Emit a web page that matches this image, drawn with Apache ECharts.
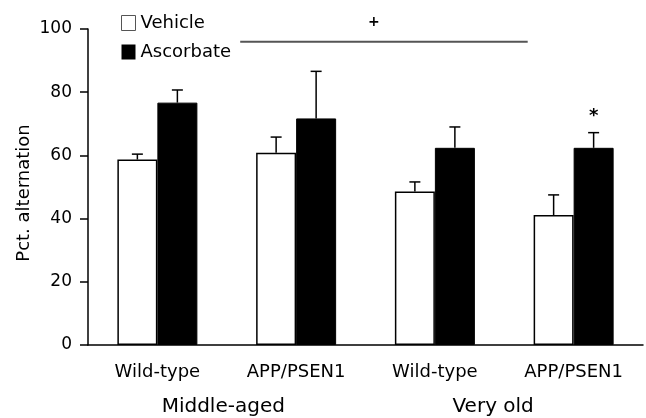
<!DOCTYPE html>
<html>
<head>
<meta charset="utf-8">
<script src="https://cdn.jsdelivr.net/npm/echarts@6/dist/echarts.min.js"></script>
<style>html,body{margin:0;padding:0;background:#fff}#c{width:646px;height:418px}</style>
</head>
<body>
<div id="c"></div>
<script>
// ---- data ----
var categories = ['Wild-type', 'APP/PSEN1', 'Wild-type', 'APP/PSEN1'];
var groupLabels = ['Middle-aged', 'Very old'];
var groupLabelPos = [0.475, 2.42];      // in category-index units
var vehicle = [58.7, 60.8, 48.6, 41.1];
var vehicleSem = [1.7, 5.0, 3.0, 6.4];
var ascorbate = [76.7, 71.7, 62.4, 62.4];
var ascorbateSem = [4.0, 14.9, 6.6, 4.8];
var yTicks = [0, 20, 40, 60, 80, 100];
// significance annotations
var sigLine = [0.597, 2.669, 96];       // x0, x1 (category-index units), y value
var plusMark = [1.56, 102.2, '+'];
var starMark = [3, 72.5, '*'];

// ---- style ----
var FONT = 'DejaVu Sans';
var BAR_W = 40;
var CAP = 11;

function errData(vals, sems) {
  return vals.map(function (v, i) { return [i, v, v + sems[i]]; });
}

function errSeries(name, vals, sems, offset) {
  return {
    type: 'custom',
    name: name + '-err',
    xAxisIndex: 0,
    z: 5,
    silent: true,
    data: errData(vals, sems),
    renderItem: function (params, api) {
      var b = api.coord([api.value(0), api.value(1)]);
      var t = api.coord([api.value(0), api.value(2)]);
      var x = b[0] + offset;
      return {
        type: 'group',
        children: [
          { type: 'line', shape: { x1: x, y1: b[1], x2: x, y2: t[1] }, style: { stroke: '#000', lineWidth: 1.5 } },
          { type: 'line', shape: { x1: x - CAP / 2, y1: t[1], x2: x + CAP / 2, y2: t[1] }, style: { stroke: '#000', lineWidth: 1.5 } }
        ]
      };
    }
  };
}

var chart = echarts.init(document.getElementById('c'));
chart.setOption({
  animation: false,
  backgroundColor: '#fff',
  grid: { left: 88, right: 3, top: 29, bottom: 73, containLabel: false },
  legend: {
    orient: 'vertical',
    left: 116,
    top: 9,
    itemWidth: 14,
    itemHeight: 15,
    itemGap: 11,
    icon: 'rect',
    textStyle: { fontFamily: FONT, fontSize: 18, color: '#000' },
    data: [
      { name: 'Vehicle', itemStyle: { color: '#fff', borderColor: '#555', borderWidth: 1 } },
      { name: 'Ascorbate', itemStyle: { color: '#000', borderColor: '#000', borderWidth: 0 } }
    ]
  },
  xAxis: [{
    type: 'category',
    data: categories,
    axisLine: { lineStyle: { color: '#000', width: 1.5 } },
    axisTick: { show: false },
    axisLabel: { fontFamily: FONT, fontSize: 18, color: '#000', margin: 18, interval: 0 }
  }, {
    type: 'value',
    min: -0.5,
    max: 3.5,
    show: false
  }],
  yAxis: {
    type: 'value',
    min: yTicks[0],
    max: yTicks[yTicks.length - 1],
    interval: yTicks[1] - yTicks[0],
    name: 'Pct. alternation',
    nameLocation: 'middle',
    nameGap: 55,
    nameMoveOverlap: false,
    nameTextStyle: { fontFamily: FONT, fontSize: 18, color: '#000', padding: [0, 12, 0, 0] },
    splitLine: { show: false },
    axisLine: { show: true, onZero: false, lineStyle: { color: '#000', width: 1.5 } },
    axisTick: { show: true, length: 8, lineStyle: { color: '#000', width: 1.5 } },
    axisLabel: { fontFamily: FONT, fontSize: 17, color: '#000', margin: 16 }
  },
  series: [
    {
      name: 'Vehicle', type: 'bar', data: vehicle, barWidth: BAR_W, barGap: '0%',
      itemStyle: { color: '#fff', borderColor: '#000', borderWidth: 1.5 }
    },
    {
      name: 'Ascorbate', type: 'bar', data: ascorbate, barWidth: BAR_W, barGap: '0%',
      itemStyle: { color: '#000', borderColor: '#000', borderWidth: 1 }
    },
    errSeries('Vehicle', vehicle, vehicleSem, -BAR_W / 2),
    errSeries('Ascorbate', ascorbate, ascorbateSem, BAR_W / 2),
    {
      type: 'custom',
      name: 'annotations',
      xAxisIndex: 1,
      silent: true,
      clip: false,
      z: 6,
      data: [0],
      renderItem: function (params, api) {
        var a = api.coord([sigLine[0], sigLine[2]]);
        var b = api.coord([sigLine[1], sigLine[2]]);
        var p = api.coord([plusMark[0], plusMark[1]]);
        var s = api.coord([starMark[0] + 0.144, starMark[1]]);
        var children = [
          { type: 'line', shape: { x1: a[0], y1: a[1], x2: b[0], y2: b[1] }, style: { stroke: '#555', lineWidth: 2 } },
          { type: 'text', x: p[0], y: p[1], style: { text: plusMark[2], fontFamily: FONT, fontSize: 14, fontWeight: 'bold', fill: '#000', align: 'center', verticalAlign: 'middle' } },
          { type: 'text', x: s[0], y: s[1], style: { text: starMark[2], fontFamily: FONT, fontSize: 18, fontWeight: 'bold', fill: '#000', align: 'center', verticalAlign: 'middle' } }
        ];
        groupLabels.forEach(function (g, i) {
          var c = api.coord([groupLabelPos[i], 0]);
          children.push({ type: 'text', x: c[0], y: c[1] + 62, style: { text: g, fontFamily: FONT, fontSize: 20, fill: '#000', align: 'center', verticalAlign: 'middle' } });
        });
        return { type: 'group', children: children };
      }
    }
  ]
});
</script>
</body>
</html>
